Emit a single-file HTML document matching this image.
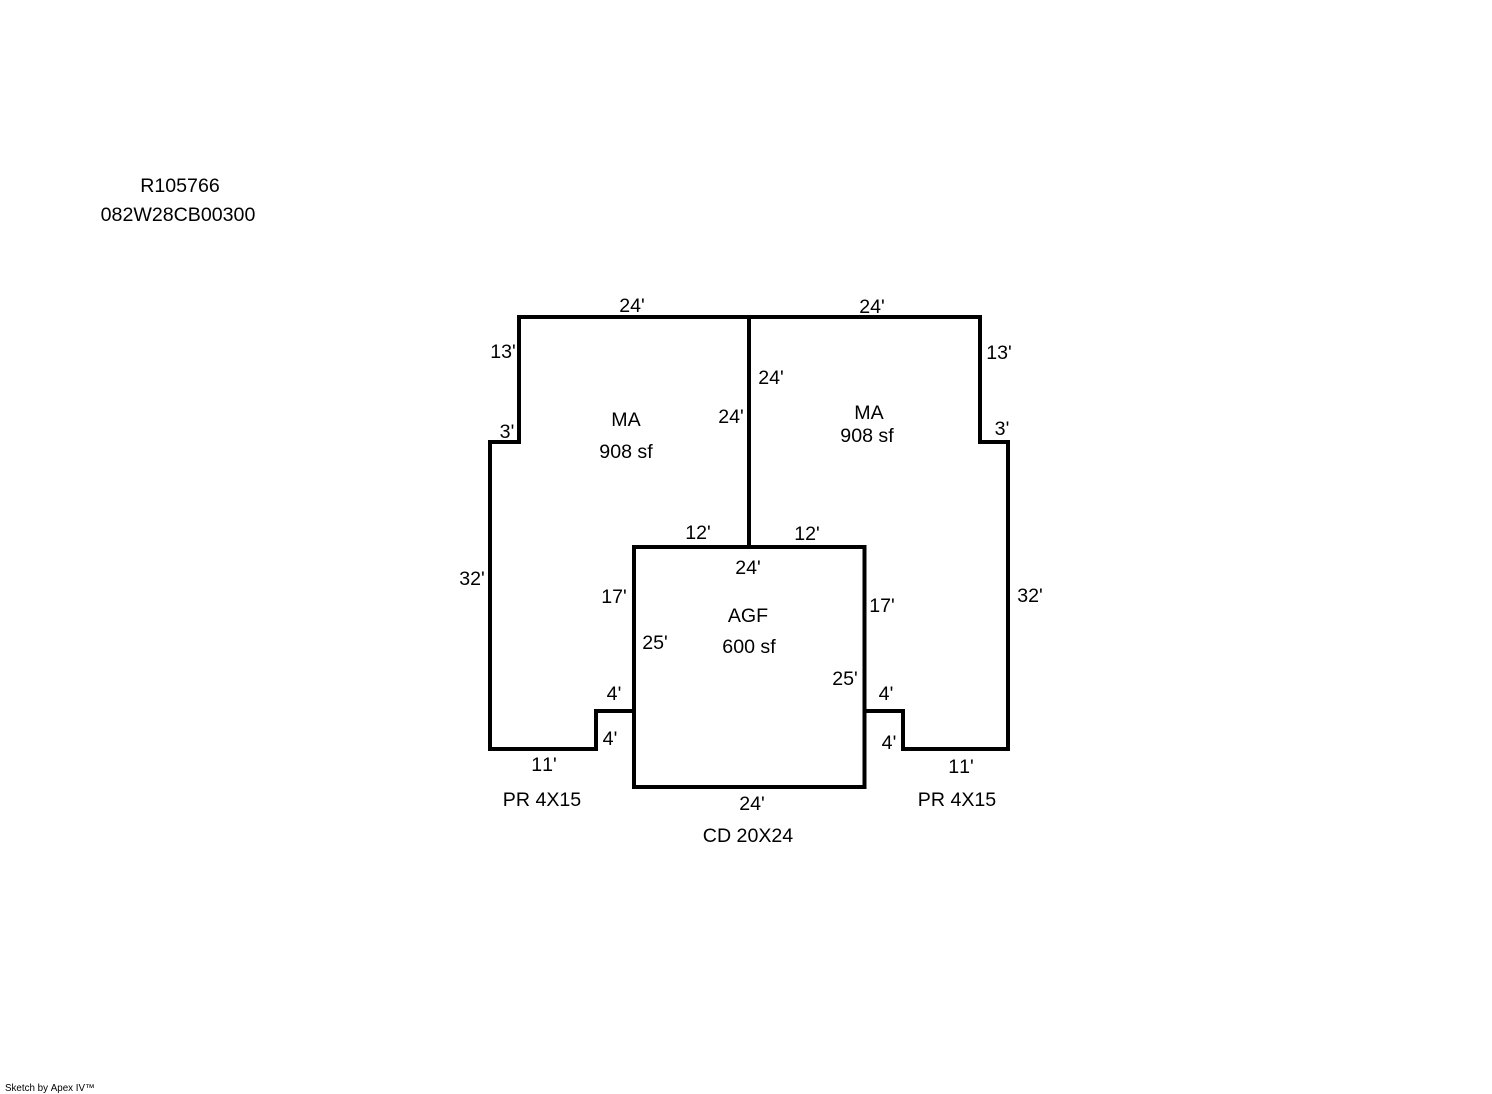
<!DOCTYPE html>
<html>
<head>
<meta charset="utf-8">
<title>Sketch</title>
<style>
html,body{margin:0;padding:0;background:#fff;width:1492px;height:1094px;overflow:hidden}
svg{display:block}
text{font-family:"Liberation Sans",Arial,sans-serif;font-size:19.6px;font-kerning:none;fill:#000;text-anchor:middle}
.s{fill:none;stroke:#000;stroke-width:4;stroke-linejoin:miter}
</style>
</head>
<body>
<svg width="1492" height="1094" viewBox="0 0 1492 1094" xmlns="http://www.w3.org/2000/svg">
<path class="s" d="M634 711H596V749H490V442H519V317H980V442H1008V749H903V711H865"/>
<rect class="s" x="634" y="547" width="230.500" height="240"/>
<path class="s" d="M749 317V547"/>

<text x="180" y="192">R105766</text>
<text x="178" y="221">082W28CB00300</text>

<text x="632" y="312">24'</text>
<text x="872" y="313">24'</text>
<text x="503" y="358">13'</text>
<text x="999" y="359">13'</text>
<text x="507" y="438">3'</text>
<text x="1002" y="435">3'</text>
<text x="771" y="384">24'</text>
<text x="731" y="423">24'</text>
<text x="626" y="426">MA</text>
<text x="626" y="458">908 sf</text>
<text x="869" y="419">MA</text>
<text x="867" y="442">908 sf</text>
<text x="698" y="539">12'</text>
<text x="807" y="540">12'</text>
<text x="748" y="574">24'</text>
<text x="472" y="585">32'</text>
<text x="1030" y="602">32'</text>
<text x="614" y="603">17'</text>
<text x="882" y="612">17'</text>
<text x="748" y="622">AGF</text>
<text x="749" y="653">600 sf</text>
<text x="655" y="649">25'</text>
<text x="845" y="685">25'</text>
<text x="614" y="700">4'</text>
<text x="886" y="700">4'</text>
<text x="610" y="745">4'</text>
<text x="889" y="749">4'</text>
<text x="544" y="771">11'</text>
<text x="961" y="773">11'</text>
<text x="542" y="806">PR 4X15</text>
<text x="957" y="806">PR 4X15</text>
<text x="752" y="810">24'</text>
<text x="748" y="842">CD 20X24</text>

<text x="5" y="1091" style="font-size:9.8px;text-anchor:start">Sketch by Apex IV™</text>
</svg>
</body>
</html>
